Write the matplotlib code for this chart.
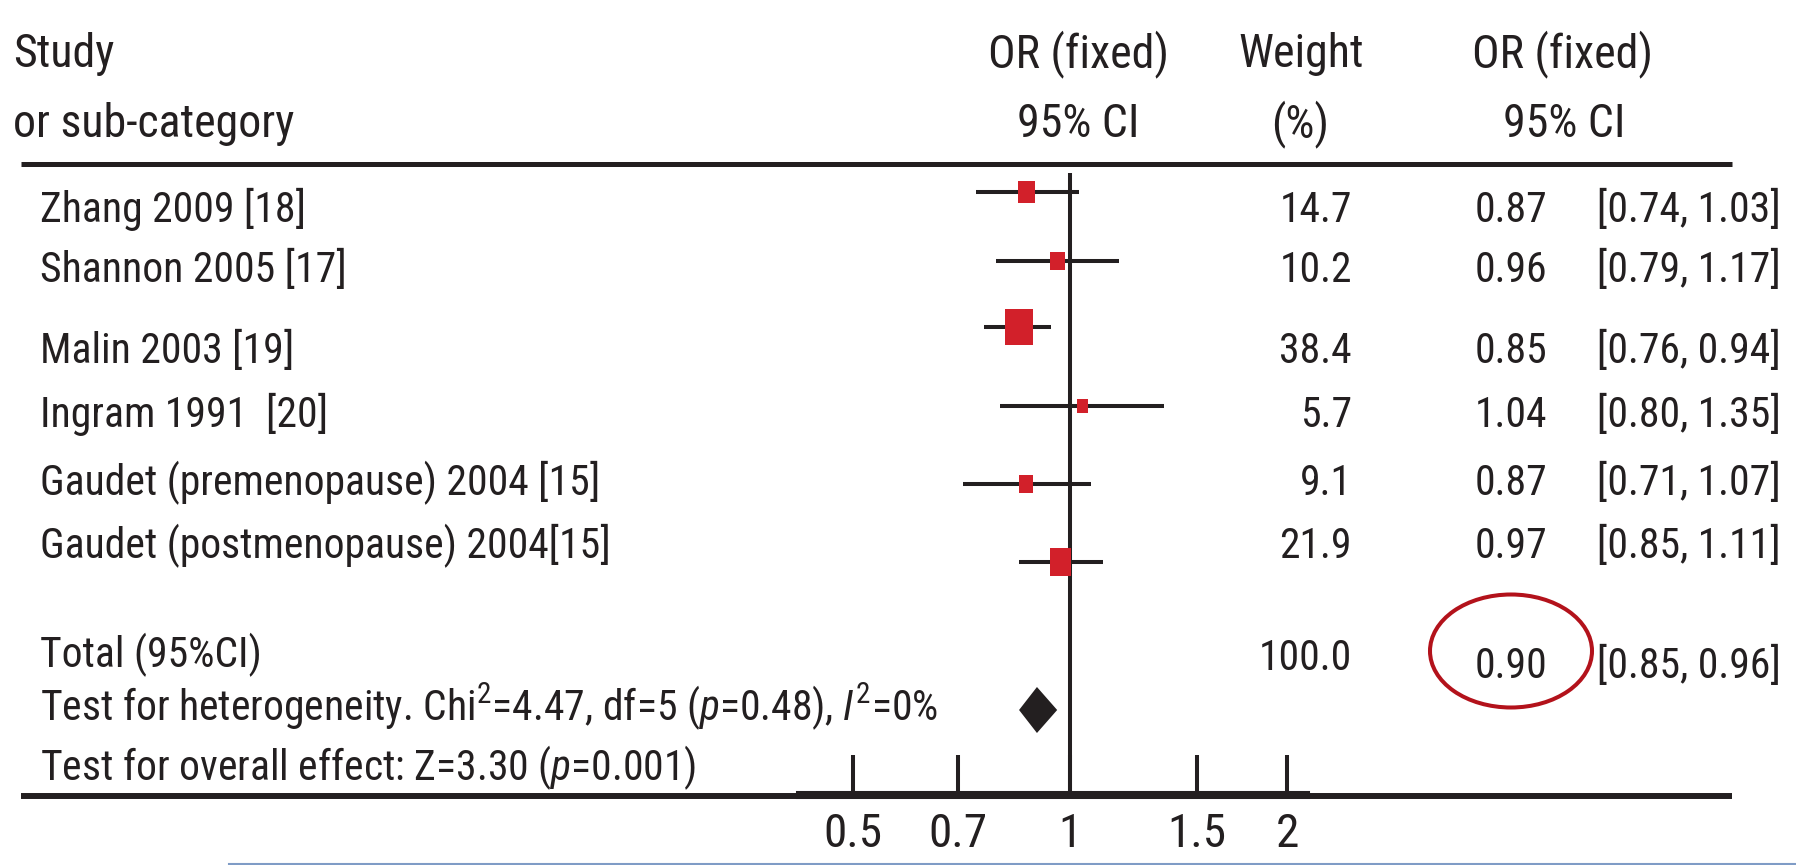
import numpy as np
import matplotlib
matplotlib.use('Agg')
import matplotlib.pyplot as plt
from matplotlib import font_manager
from matplotlib.patches import Polygon, Ellipse

# study data
studies = ['Zhang 2009 [18]', 'Shannon 2005 [17]', 'Malin 2003 [19]', 'Ingram 1991  [20]',
           'Gaudet (premenopause) 2004 [15]', 'Gaudet (postmenopause) 2004[15]']
odds = [0.87, 0.96, 0.85, 1.04, 0.87, 0.97]
ci_low = [0.74, 0.79, 0.76, 0.80, 0.71, 0.85]
ci_high = [1.03, 1.17, 0.94, 1.35, 1.07, 1.11]
weights = [14.7, 10.2, 38.4, 5.7, 9.1, 21.9]
total_or, total_low, total_high, total_weight = 0.90, 0.85, 0.96, 100.0
ticks = [0.5, 0.7, 1, 1.5, 2]

# layout (pixels from top-left)
W, H = 1796, 865
mark_y = [192, 261, 327, 406, 484, 562]
text_y = [222, 282, 363, 427, 495, 558]
diamond_y = 710

# pick a condensed font if one is there
names = {f.name for f in font_manager.fontManager.ttflist}
font = 'DejaVu Sans'
for cand in ['Liberation Sans Narrow', 'Roboto Condensed', 'Open Sans Condensed', 'Arial Narrow']:
    if cand in names:
        font = cand
        break
plt.rcParams['font.family'] = [font, 'DejaVu Sans']
plt.rcParams['mathtext.fontset'] = 'custom'
plt.rcParams['mathtext.rm'] = font
plt.rcParams['mathtext.it'] = font + ':italic'

ink = '#231f20'
red = '#d2202a'
fs = 30      # table rows
hs = 33      # header

fig = plt.figure(figsize=(W / 100, H / 100), dpi=100)
bg = fig.add_axes([0, 0, 1, 1])
bg.set_xlim(0, W)
bg.set_ylim(H, 0)
bg.axis('off')

# header
bg.text(13, 67, 'Study', fontsize=hs, color=ink)
bg.text(13, 137, 'or sub-category', fontsize=hs, color=ink)
bg.text(1078, 67, 'OR (fixed)', fontsize=hs, color=ink, ha='center')
bg.text(1078, 137, '95% CI', fontsize=hs, color=ink, ha='center')
bg.text(1301, 67, 'Weight', fontsize=hs, color=ink, ha='center')
bg.text(1300, 137, '(%)', fontsize=hs, color=ink, ha='center')
bg.text(1563, 67, 'OR (fixed)', fontsize=hs, color=ink, ha='center')
bg.text(1564, 137, '95% CI', fontsize=hs, color=ink, ha='center')

# horizontal rules
bg.plot([21, 1732], [164, 164], color=ink, lw=3.6, solid_capstyle='butt')
bg.plot([21, 1732], [796, 796], color=ink, lw=4.3, solid_capstyle='butt')
bg.plot([229, W], [863.5, 863.5], color='#7f9cc6', lw=1.5)

# study rows
for i in range(len(studies)):
    y = text_y[i]
    bg.text(40, y, studies[i], fontsize=fs, color=ink)
    bg.text(1352, y, f'{weights[i]:.1f}', fontsize=fs, color=ink, ha='right')
    bg.text(1475, y, f'{odds[i]:.2f}', fontsize=fs, color=ink)
    bg.text(1597, y, f'[{ci_low[i]:.2f}, {ci_high[i]:.2f}]', fontsize=fs, color=ink)

# total rows
bg.text(40, 667, 'Total (95%CI)', fontsize=fs, color=ink)
bg.text(1352, 670, f'{total_weight:.1f}', fontsize=fs, color=ink, ha='right')
bg.text(1475, 678, f'{total_or:.2f}', fontsize=fs, color=ink)
bg.text(1597, 678, f'[{total_low:.2f}, {total_high:.2f}]', fontsize=fs, color=ink)
bg.text(40, 720, r'Test for heterogeneity. Chi$^2$=4.47, df=5 ($p$=0.48), $I^2$=0%',
        fontsize=fs, color=ink)
bg.text(40, 780, r'Test for overall effect: Z=3.30 ($p$=0.001)', fontsize=fs, color=ink)
bg.add_patch(Ellipse((1511, 651), 162, 113, fill=False, edgecolor='#b3121b', lw=2.9))

# forest plot axes
ax = fig.add_axes([800 / W, 0, 506 / W, 1])
ax.patch.set_alpha(0)
ax.set_xscale('log')
ax.set_xlim(0.4223, 2.125)
ax.set_ylim(H, 0)
for side in ['top', 'left', 'right']:
    ax.spines[side].set_visible(False)
ax.spines['bottom'].set_position(('data', 795))
ax.spines['bottom'].set_linewidth(5.8)
ax.spines['bottom'].set_color(ink)
ax.set_yticks([])
ax.set_xticks(ticks)
ax.set_xticklabels([f'{t:g}' for t in ticks])
ax.xaxis.set_minor_locator(matplotlib.ticker.NullLocator())
ax.tick_params(axis='x', direction='in', length=28.8, width=2.9, color=ink,
               labelsize=34, labelcolor=ink, pad=12)

ax.vlines(1, 173, 795, color=ink, lw=2.9)
ax.hlines(mark_y, ci_low, ci_high, color=ink, lw=2.9)
box = [(-0.39, -0.5), (0.39, -0.5), (0.39, 0.5), (-0.39, 0.5), (-0.39, -0.5)]
ax.scatter(odds, mark_y, s=[18 * w for w in weights], marker=box, color=red,
           linewidths=0, zorder=3)
ax.add_patch(Polygon([(total_low, diamond_y), (total_or, diamond_y - 23),
                      (total_high, diamond_y), (total_or, diamond_y + 23)],
                     closed=True, color=ink, lw=0))

fig.savefig('out.png', dpi=100)
